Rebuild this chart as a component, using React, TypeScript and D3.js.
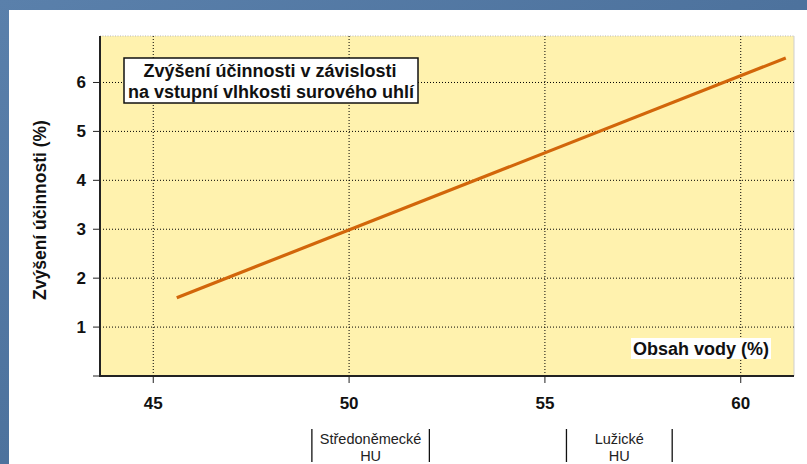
import React from "react";
import * as d3 from "d3";

const waterContent = [45.6, 61.15];
const efficiencyGain = [1.6, 6.5];
const xTicks = [45, 50, 55, 60];
const yTicks = [1, 2, 3, 4, 5, 6];
const yTickMarks = [0, 1, 2, 3, 4, 5, 6];
const titleLines = ["Zvýšení účinnosti v závislosti", "na vstupní vlhkosti surového uhlí"];
const yTitle = "Zvýšení účinnosti (%)";
const xTitle = "Obsah vody (%)";
const regions = [
  { name: "Středoněmecké", sub: "HU", from: 49.05, to: 52.05 },
  { name: "Lužické", sub: "HU", from: 55.55, to: 58.25 },
];

const W = 807;
const H = 464;
const L = 100, T = 36, R = 794, B = 376;

export default function App() {
  const x = d3.scaleLinear().domain([43.64, 61.36]).range([L, R]);
  const y = d3.scaleLinear().domain([0, 6.95]).range([B, T]);
  const pts = waterContent.map((v, i) => [v, efficiencyGain[i]] as [number, number]);
  const line = d3.line<[number, number]>().x(d => x(d[0])).y(d => y(d[1]));
  const font = "'Liberation Sans', Arial, sans-serif";

  return (
    <svg width={W} height={H} style={{ position: "absolute", left: 0, top: 0 }} fontFamily={font}>
      <defs>
        <linearGradient id="bg" x1="0" y1="0" x2="1" y2="1">
          <stop offset="0" stopColor="#5a80ab" />
          <stop offset="0.5" stopColor="#4d729d" />
          <stop offset="1" stopColor="#567ca6" />
        </linearGradient>
      </defs>
      <rect x={0} y={0} width={W} height={H} fill="url(#bg)" />
      <rect x={9} y={10} width={W - 9} height={H - 10} fill="#ffffff" />
      {/* plot area */}
      <rect x={L} y={T} width={R - L} height={B - T} fill="#fff2ae" />
      <line x1={L} x2={R} y1={T} y2={T} stroke="#b8b8b8" strokeDasharray="1,1.5" />
      <line x1={R} x2={R} y1={T} y2={B} stroke="#cfcfcf" />
      {/* grid */}
      {yTicks.map(t => (
        <line key={"gy" + t} x1={L} x2={R} y1={y(t)} y2={y(t)} stroke="#000" strokeWidth={1} strokeDasharray="1,2" />
      ))}
      {xTicks.map(t => (
        <line key={"gx" + t} x1={x(t)} x2={x(t)} y1={T} y2={B} stroke="#000" strokeWidth={1} strokeDasharray="1,2" />
      ))}
      {/* data line */}
      <path d={line(pts) || ""} fill="none" stroke="#d2660a" strokeWidth={3.2} />
      {/* axes */}
      <line x1={L} x2={L} y1={T} y2={B + 1} stroke="#222" strokeWidth={2} />
      <line x1={L - 1} x2={R} y1={B} y2={B} stroke="#222" strokeWidth={2} />
      {yTickMarks.map(t => (
        <line key={"ty" + t} x1={L - 7} x2={L} y1={y(t)} y2={y(t)} stroke="#222" strokeWidth={1} />
      ))}
      {xTicks.map(t => (
        <line key={"tx" + t} x1={x(t)} x2={x(t)} y1={B} y2={B + 7} stroke="#222" strokeWidth={1} />
      ))}
      {yTicks.map(t => (
        <text key={"ly" + t} x={86} y={y(t) + 6} textAnchor="end" fontSize={17} fontWeight="bold" fill="#111">{t}</text>
      ))}
      {xTicks.map(t => (
        <text key={"lx" + t} x={x(t)} y={409} textAnchor="middle" fontSize={17} fontWeight="bold" fill="#111">{t}</text>
      ))}
      {/* y title */}
      <text transform="translate(46,210) rotate(-90)" textAnchor="middle" fontSize={17.5} fontWeight="bold" fill="#111">{yTitle}</text>
      {/* chart title box */}
      <rect x={124} y={58} width={294} height={45} fill="#fff" stroke="#111" strokeWidth={1.5} />
      <text x={270} y={77} textAnchor="middle" fontSize={18} fontWeight="bold" fill="#111">{titleLines[0]}</text>
      <text x={271} y={98} textAnchor="middle" fontSize={18} fontWeight="bold" fill="#111">{titleLines[1]}</text>
      {/* x title */}
      <rect x={631} y={338} width={140} height={21} fill="#fff" />
      <text x={701} y={355} textAnchor="middle" fontSize={18} fontWeight="bold" fill="#111">{xTitle}</text>
      {/* region annotations */}
      {regions.map(r => (
        <g key={r.name}>
          <line x1={x(r.from)} x2={x(r.from)} y1={429} y2={462} stroke="#111" strokeWidth={1.3} />
          <line x1={x(r.to)} x2={x(r.to)} y1={429} y2={462} stroke="#111" strokeWidth={1.3} />
          <text x={(x(r.from) + x(r.to)) / 2} y={444} textAnchor="middle" fontSize={14.5} fill="#222">{r.name}</text>
          <text x={(x(r.from) + x(r.to)) / 2} y={461} textAnchor="middle" fontSize={14.5} fill="#222">{r.sub}</text>
        </g>
      ))}
    </svg>
  );
}
